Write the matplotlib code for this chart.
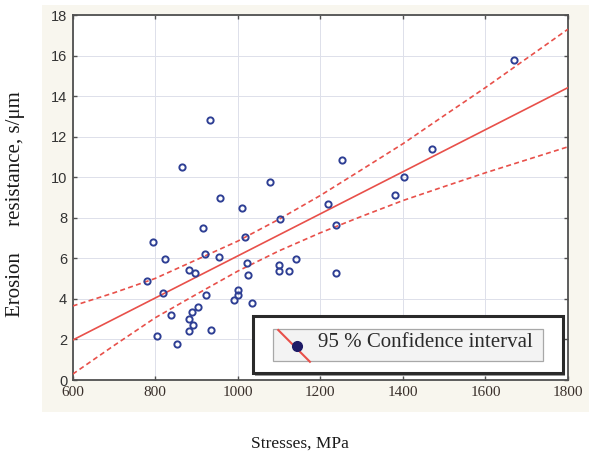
#! /usr/bin/env python
"""Erosion resistance vs stresses, with regression line and 95 % band."""

import matplotlib.pyplot as plt
from matplotlib.patches import Rectangle
from matplotlib.lines import Line2D

# Measured points (stress, MPa / erosion resistance, s/um)
stress = [1670, 933, 864, 1253, 1471, 1402, 1079, 1380, 958, 1011,
          1218, 1103, 1238, 915, 794, 1017, 823, 921, 954, 1142,
          1023, 1100, 1101, 1125, 1239, 882, 897, 1024, 780, 818,
          922, 1001, 1000, 990, 1034, 904, 889, 838, 883, 892,
          882, 934, 804, 852]
erosion = [15.8, 12.8, 10.5, 10.87, 11.4, 10.0, 9.77, 9.11, 9.0, 8.5,
           8.67, 7.93, 7.66, 7.49, 6.8, 7.05, 5.98, 6.2, 6.08, 5.99,
           5.78, 5.67, 5.37, 5.37, 5.29, 5.41, 5.29, 5.17, 4.86, 4.27,
           4.18, 4.46, 4.17, 3.97, 3.79, 3.61, 3.35, 3.2, 3.0, 2.71,
           2.43, 2.45, 2.15, 1.79]

# Regression line end points
reg_x = [600, 1800]
reg_y = [1.97, 14.42]

# Confidence band
ci_x = [600, 700, 800, 900, 1000, 1100, 1200, 1300, 1400, 1500, 1600,
        1700, 1800]
ci_upper = [3.65, 4.30, 5.01, 5.93, 6.85, 7.93, 9.10, 10.37, 11.65, 13.04,
            14.42, 15.86, 17.30]
ci_lower = [0.29, 1.70, 3.07, 4.23, 5.37, 6.37, 7.26, 8.07, 8.85, 9.54,
            10.22, 10.86, 11.50]

x_ticks = [600, 800, 1000, 1200, 1400, 1600, 1800]
y_ticks = [0, 2, 4, 6, 8, 10, 12, 14, 16, 18]
legend_label = '95 % Confidence interval'

red = '#e8504a'
navy = '#2e3f94'
serif = ['Liberation Serif', 'DejaVu Serif']
sans = ['Liberation Sans', 'DejaVu Sans']

fig = plt.figure(figsize=(5.89, 4.55), dpi=100)
fig.patch.set_facecolor('white')
# cream panel behind the plot
fig.patches.append(Rectangle((0.0713, 0.0945), 0.93, 0.895,
                             transform=fig.transFigure, facecolor='#f8f6ee',
                             edgecolor='none', zorder=-10))

ax = fig.add_axes([0.1234, 0.1648, 0.8409, 0.8022])
ax.set_facecolor('white')

ax.plot(reg_x, reg_y, color=red, lw=1.2, zorder=3)
ax.plot(ci_x, ci_upper, color=red, lw=1.2, ls=(0, (3, 2)), zorder=3)
ax.plot(ci_x, ci_lower, color=red, lw=1.2, ls=(0, (3, 2)), zorder=3)
ax.plot(stress, erosion, 'o', mfc='none', mec=navy, ms=4.5, mew=1.4,
        zorder=4)

ax.set_xlim(600, 1800)
ax.set_ylim(0, 18)
ax.set_xticks(x_ticks)
ax.set_yticks(y_ticks)
ax.set_xticklabels([str(t) for t in x_ticks], family=serif, fontsize=11,
                   color='#3a302b')
ax.set_yticklabels([str(t) for t in y_ticks], family=sans, fontsize=10.5,
                   color='#333333')
ax.tick_params(direction='in', length=3, width=1, color='#505050',
               top=True, right=True, pad=4)
ax.grid(color='#dde0ea', lw=0.7)
for sp in ax.spines.values():
    sp.set_color('#505050')
    sp.set_linewidth(1.3)

# legend box drawn by hand
tr = ax.transAxes
ax.add_patch(Rectangle((0.369, 0.010), 0.625, 0.160, transform=tr,
                       facecolor='#9a9a9a', edgecolor='none', zorder=5))
ax.add_patch(Rectangle((0.365, 0.018), 0.625, 0.157, transform=tr,
                       facecolor='white', edgecolor='#2a2a2a', lw=2.2,
                       zorder=6))
ax.add_patch(Rectangle((0.405, 0.052), 0.544, 0.089, transform=tr,
                       facecolor='#f3f3f3', edgecolor='#a8a8a8', lw=0.9,
                       zorder=7))
ax.add_line(Line2D([0.415, 0.479], [0.137, 0.050], transform=tr, color=red,
                   lw=1.5, zorder=8))
ax.add_line(Line2D([0.452], [0.093], transform=tr, marker='o', ms=7,
                   color='#1e1a66', zorder=9))
ax.text(0.495, 0.104, legend_label, transform=tr, family=serif,
        fontsize=15, color='#2a2a2a', va='center', ha='left', zorder=9)

fig.text(0.026, 0.551, 'Erosion     resistance, s/\u03bcm', rotation=90,
         family=serif, fontsize=15, color='#1a1a1a', ha='center',
         va='center')
fig.text(0.509, 0.026, 'Stresses, MPa', family=serif, fontsize=12.5,
         color='#1a1a1a', ha='center', va='center')

fig.savefig('out.png', dpi=100)
